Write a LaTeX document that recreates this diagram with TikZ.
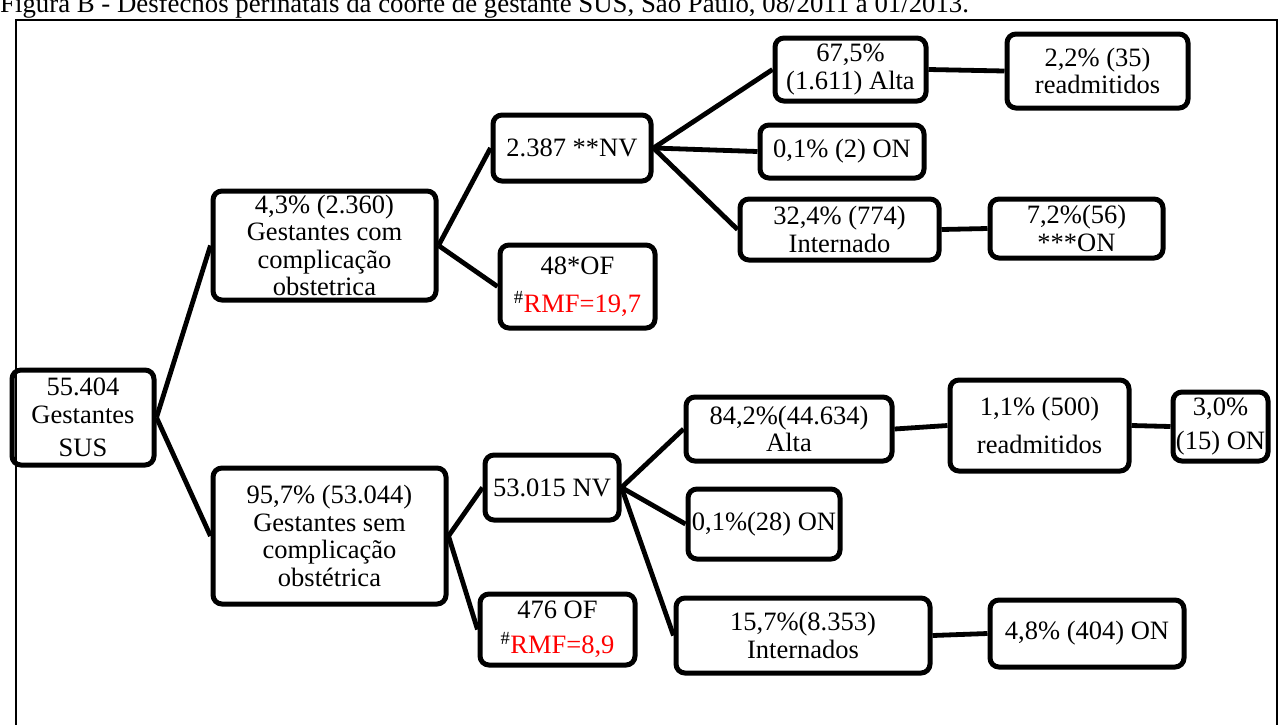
\documentclass[tikz,border=0pt]{standalone}
\usepackage{fontspec}
\setmainfont{Liberation Serif}
\newcommand\dfont{\fontsize{26.5}{27.5}\selectfont}
\begin{document}
\begin{tikzpicture}[x=1pt,y=-1pt,
  box/.style={draw, line width=5pt, rounded corners=9pt, inner sep=0pt, align=center, font=\dfont},
  conn/.style={line width=4.8pt},
  frame/.style={line width=2pt},
  rmf/.style={text=red}]
\useasboundingbox (0,0) rectangle (1280,724);
\clip (0,0) rectangle (1280,724);
\node[anchor=base west, inner sep=0pt, font=\fontsize{26.8}{28}\selectfont] (cap) at (0,12) {Figura B - Desfechos perinatais da coorte de gestante SUS, São Paulo, 08/2011 a 01/2013.};
\draw[frame] (16,740) -- (16,20) -- (1277,20) -- (1277,740);
% nodes
\node[box, minimum width=142, minimum height=95] (root) at (83,417.5) {55.404\\Gestantes\\[6pt]SUS};
\node[box, minimum width=223, minimum height=109] (c1) at (324.5,245.5) {4,3\% (2.360)\\Gestantes com\\complicação\\obstetrica};
\node[box, minimum width=158, minimum height=66] (nv1) at (572,148) {2.387 **NV};
\node[box, minimum width=155, minimum height=83] (of1) at (577.5,286.5) {48*OF\\[10pt]\textsuperscript{\#}\textcolor{red}{RMF=19,7}};
\node[box, minimum width=151, minimum height=63] (a1) at (850.5,69.5) {67,5\%\\(1.611) Alta};
\node[box, minimum width=181, minimum height=74] (r1) at (1097.5,71) {2,2\% (35)\\readmitidos};
\node[box, minimum width=164, minimum height=53] (on1) at (842,151.5) {0,1\% (2) ON};
\node[box, minimum width=199, minimum height=61] (i1) at (839.5,229.5) {32,4\% (774)\\Internado};
\node[box, minimum width=173, minimum height=59] (o1) at (1076.5,228.5) {7,2\%(56)\\***ON};
\node[box, minimum width=233, minimum height=136] (c2) at (329.5,536) {95,7\% (53.044)\\Gestantes sem\\complicação\\obstétrica};
\node[box, minimum width=134, minimum height=65] (nv2) at (552,487.5) {53.015 NV};
\node[box, minimum width=155, minimum height=71] (of2) at (557.5,629.5) {476 OF\\[8pt]\textsuperscript{\#}\textcolor{red}{RMF=8,9}};
\node[box, minimum width=206, minimum height=64] (a2) at (789,429) {84,2\%(44.634)\\Alta};
\node[box, minimum width=179, minimum height=91] (r2) at (1039.5,425.5) {1,1\% (500)\\[10pt]readmitidos};
\node[box, minimum width=95, minimum height=69] (o2) at (1220.5,426.5) {3,0\%\\[6pt](15) ON};
\node[box, minimum width=152, minimum height=70] (on2) at (764,524) {0,1\%(28) ON};
\node[box, minimum width=254, minimum height=75] (i2) at (803,635.5) {15,7\%(8.353)\\Internados};
\node[box, minimum width=194, minimum height=67] (o3) at (1087,633.5) {4,8\% (404) ON};
% connectors
\draw[conn] (root.east) -- (c1.west);
\draw[conn] (root.east) -- (c2.west);
\draw[conn] (c1.east) -- (nv1.west);
\draw[conn] (c1.east) -- (of1.west);
\draw[conn] (nv1.east) -- (a1.west);
\draw[conn] (nv1.east) -- (on1.west);
\draw[conn] (nv1.east) -- (i1.west);
\draw[conn] (a1.east) -- (r1.west);
\draw[conn] (i1.east) -- (o1.west);
\draw[conn] (c2.east) -- (nv2.west);
\draw[conn] (c2.east) -- (of2.west);
\draw[conn] (nv2.east) -- (a2.west);
\draw[conn] (nv2.east) -- (on2.west);
\draw[conn] (nv2.east) -- (i2.west);
\draw[conn] (a2.east) -- (r2.west);
\draw[conn] (r2.east) -- (o2.west);
\draw[conn] (i2.east) -- (o3.west);
\end{tikzpicture}
\end{document}
